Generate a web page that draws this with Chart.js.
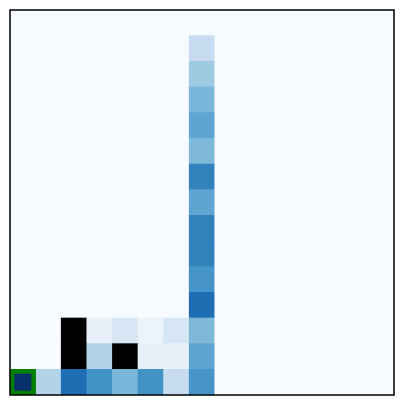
<!DOCTYPE html>
<html><head><meta charset="utf-8">
<script src="https://cdn.jsdelivr.net/npm/chart.js@4"></script>
<style>html,body{margin:0;padding:0;background:#fff}canvas{display:block}</style>
</head><body>
<canvas id="c" width="405" height="405"></canvas>
<script>
// Grid: 15 columns x 15 rows; row 0 is the bottom row. null = masked (black) cell.
const columns = [0,1,2,3,4,5,6,7,8,9,10,11,12,13,14];
const rows = [0,1,2,3,4,5,6,7,8,9,10,11,12,13,14];
const row0  = [1.0, 0.31, 0.76, 0.625, 0.46, 0.625, 0.25, 0.61, 0,0,0,0,0,0,0];
const row1  = [0, 0, null, 0.31, null, 0.075, 0.075, 0.54, 0,0,0,0,0,0,0];
const row2  = [0, 0, null, 0.075, 0.167, 0.06, 0.167, 0.45, 0,0,0,0,0,0,0];
const row3  = [0,0,0,0,0,0,0, 0.76, 0,0,0,0,0,0,0];
const row4  = [0,0,0,0,0,0,0, 0.61, 0,0,0,0,0,0,0];
const row5  = [0,0,0,0,0,0,0, 0.685, 0,0,0,0,0,0,0];
const row6  = [0,0,0,0,0,0,0, 0.685, 0,0,0,0,0,0,0];
const row7  = [0,0,0,0,0,0,0, 0.54, 0,0,0,0,0,0,0];
const row8  = [0,0,0,0,0,0,0, 0.685, 0,0,0,0,0,0,0];
const row9  = [0,0,0,0,0,0,0, 0.45, 0,0,0,0,0,0,0];
const row10 = [0,0,0,0,0,0,0, 0.54, 0,0,0,0,0,0,0];
const row11 = [0,0,0,0,0,0,0, 0.46, 0,0,0,0,0,0,0];
const row12 = [0,0,0,0,0,0,0, 0.375, 0,0,0,0,0,0,0];
const row13 = [0,0,0,0,0,0,0, 0.25, 0,0,0,0,0,0,0];
const row14 = [0,0,0,0,0,0,0, 0, 0,0,0,0,0,0,0];
const values = [row0,row1,row2,row3,row4,row5,row6,row7,row8,row9,row10,row11,row12,row13,row14];
const highlightCol = 0;
const highlightRow = 0;

// matplotlib "Blues" colormap stops
const bluesStops = ['#f7fbff','#deebf7','#c6dbef','#9ecae1','#6baed6','#4292c6','#2171b5','#08519c','#08306b'];
function hex2rgb(h){return [1,3,5].map(i=>parseInt(h.substr(i,2),16));}
function blues(v){
  if (v === null) return '#000000';
  v = Math.max(0, Math.min(1, v));
  const n = bluesStops.length - 1;
  const p = v * n;
  const i = Math.min(Math.floor(p), n - 1);
  const t = p - i;
  const a = hex2rgb(bluesStops[i]), b = hex2rgb(bluesStops[i+1]);
  const c = a.map((x,k)=>Math.round(x + (b[k]-x)*t));
  return `rgb(${c[0]},${c[1]},${c[2]})`;
}

const datasets = rows.map(r => ({
  data: columns.map(() => [r - 0.5, r + 0.5]),
  backgroundColor: columns.map(c => blues(values[r][c])),
  borderWidth: 0,
  grouped: false,
  barPercentage: 1,
  categoryPercentage: 1,
  order: 1
}));
datasets.push({
  data: columns.map(c => c === highlightCol ? [highlightRow - 0.5, highlightRow + 0.5] : null),
  backgroundColor: 'rgba(0,0,0,0)',
  borderColor: '#008000',
  borderWidth: 4,
  borderSkipped: false,
  grouped: false,
  barPercentage: 1,
  categoryPercentage: 1,
  order: -1
});

const frame = {
  id: 'frame',
  afterDraw(chart) {
    const {ctx, chartArea: a} = chart;
    ctx.save();
    ctx.strokeStyle = '#000';
    ctx.lineWidth = 1.5;
    ctx.strokeRect(a.left, a.top, a.right - a.left, a.bottom - a.top);
    ctx.restore();
  }
};

new Chart(document.getElementById('c'), {
  type: 'bar',
  data: { labels: columns.map(String), datasets },
  options: {
    responsive: false,
    animation: false,
    layout: { padding: { left: 10, top: 10, right: 11, bottom: 10 } },
    plugins: { legend: { display: false }, tooltip: { enabled: false } },
    scales: {
      x: { type: 'category', display: false, offset: true },
      y: { type: 'linear', display: false, min: -0.5, max: 14.5 }
    }
  },
  plugins: [frame]
});
</script>
</body></html>
